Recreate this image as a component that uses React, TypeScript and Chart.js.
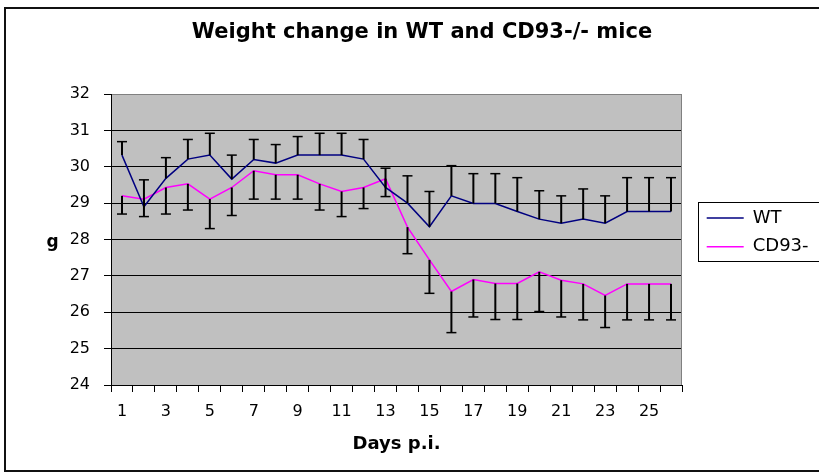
import React, { useEffect, useRef } from "react";
import { Chart, registerables } from "chart.js";

Chart.register(...registerables);

// ---- data ----
const days = ["1", "2", "3", "4", "5", "6", "7", "8", "9", "10", "11", "12", "13", "14", "15", "16", "17", "18", "19", "20", "21", "22", "23", "24", "25", "26"];
const labeledDays = ["1", "3", "5", "7", "9", "11", "13", "15", "17", "19", "21", "23", "25"];
const seriesNames = ["WT", "CD93-"];
const wtMean = [30.32, 28.9, 29.68, 30.21, 30.32, 29.66, 30.2, 30.1, 30.32, 30.32, 30.32, 30.21, 29.43, 29.0, 28.35, 29.2, 28.99, 28.99, 28.77, 28.56, 28.45, 28.56, 28.45, 28.77, 28.77, 28.77];
const wtErr = [0.37, 0.74, 0.57, 0.54, 0.6, 0.66, 0.55, 0.51, 0.51, 0.6, 0.6, 0.54, 0.53, 0.75, 0.97, 0.83, 0.82, 0.82, 0.93, 0.78, 0.75, 0.83, 0.75, 0.93, 0.93, 0.93];
const cdMean = [29.2, 29.11, 29.43, 29.53, 29.11, 29.43, 29.89, 29.78, 29.78, 29.53, 29.32, 29.43, 29.67, 28.34, 27.44, 26.57, 26.9, 26.79, 26.79, 27.11, 26.88, 26.78, 26.46, 26.78, 26.78, 26.78];
const cdErr = [0.5, 0.48, 0.73, 0.72, 0.81, 0.77, 0.78, 0.67, 0.67, 0.72, 0.69, 0.58, 0.49, 0.73, 0.92, 1.13, 1.03, 0.99, 0.99, 1.09, 1.01, 0.99, 0.88, 0.99, 0.99, 0.99];
const errorSets = [wtErr, cdErr];
const errorDirections = [1, -1]; // WT: plus bars, CD93: minus bars
const yMin = 24;
const yMax = 32;
const yStep = 1;
const titleText = "Weight change in WT and CD93-/- mice";
const xTitle = "Days p.i.";
const yTitle = "g";

const FONT = "'DejaVu Sans', sans-serif";
const CANVAS_W = 844;
const CANVAS_H = 474;
const LEGEND_W = 162;

const plotFrame = {
  id: "plotFrame",
  beforeDraw(chart: any) {
    const { ctx, chartArea: a } = chart;
    ctx.save();
    ctx.fillStyle = "#C0C0C0";
    ctx.fillRect(a.left, a.top, a.right - a.left, a.bottom - a.top);
    ctx.restore();
  },
  beforeDatasetsDraw(chart: any) {
    const { ctx, chartArea: a } = chart;
    ctx.save();
    ctx.strokeStyle = "#808080";
    ctx.lineWidth = 1;
    const x = Math.round(a.right) - 0.5;
    ctx.beginPath();
    ctx.moveTo(x, a.top);
    ctx.lineTo(x, a.bottom);
    ctx.stroke();
    ctx.restore();
  },
};

const errorBars = {
  id: "errorBars",
  afterDatasetsDraw(chart: any) {
    const { ctx } = chart;
    const xs = chart.scales.x;
    const ys = chart.scales.y;
    ctx.save();
    ctx.strokeStyle = "#000";
    chart.data.datasets.forEach((ds: any, di: number) => {
      const errs = errorSets[di];
      const dir = errorDirections[di];
      ds.data.forEach((v: number, i: number) => {
        const px = xs.getPixelForValue(i);
        const y0 = ys.getPixelForValue(v);
        const y1 = ys.getPixelForValue(v + dir * errs[i]);
        ctx.lineWidth = 2;
        ctx.beginPath();
        ctx.moveTo(px, y0);
        ctx.lineTo(px, y1);
        ctx.stroke();
        ctx.lineWidth = 1.5;
        ctx.beginPath();
        ctx.moveTo(px - 5, y1);
        ctx.lineTo(px + 5, y1);
        ctx.stroke();
      });
    });
    ctx.restore();
  },
};

const legendTweaks = {
  id: "legendTweaks",
  beforeInit(chart: any) {
    const legend = chart.legend;
    if (!legend) return;
    const orig = legend.fit;
    legend.fit = function () {
      orig.call(this);
      this.width = LEGEND_W;
    };
  },
  afterLayout(chart: any) {
    const l = chart.legend;
    if (!l) return;
    l.left += 14;
    l.right += 14;
    l.top -= 4.65;
    l.bottom -= 4.65;
  },
  afterDraw(chart: any) {
    const { ctx } = chart;
    const l = chart.legend;
    const hb = l && l.legendHitBoxes;
    if (hb && hb.length) {
      const first = hb[0];
      const last = hb[hb.length - 1];
      const left = Math.round(first.left - 8.7) + 0.5;
      const top = Math.round(first.top - 7) + 0.5;
      const bottom = Math.round(last.top + last.height + 5) + 0.5;
      ctx.save();
      ctx.strokeStyle = "#000";
      ctx.lineWidth = 1;
      ctx.strokeRect(left, top, chart.width + 20 - left, bottom - top);
      ctx.restore();
    }
    // horizontal y-axis title
    const a = chart.chartArea;
    const ys = chart.scales.y;
    ctx.save();
    ctx.fillStyle = "#000";
    ctx.font = `bold 17px ${FONT}`;
    ctx.textAlign = "center";
    ctx.textBaseline = "alphabetic";
    ctx.fillText(yTitle, ys.left + 52.5, (a.top + a.bottom) / 2 + 7);
    ctx.restore();
  },
};

export default function App() {
  const ref = useRef<HTMLCanvasElement>(null);

  useEffect(() => {
    document.body.style.margin = "0";
    document.body.style.overflow = "hidden";
    const canvas = ref.current;
    if (!canvas) return;
    const chart = new Chart(canvas, {
      type: "line",
      data: {
        labels: days,
        datasets: [
          {
            label: seriesNames[0],
            data: wtMean,
            borderColor: "#000080",
            backgroundColor: "#000080",
            borderWidth: 1.5,
            pointRadius: 0,
            tension: 0,
          },
          {
            label: seriesNames[1],
            data: cdMean,
            borderColor: "#FF00FF",
            backgroundColor: "#FF00FF",
            borderWidth: 1.5,
            pointRadius: 0,
            tension: 0,
          },
        ],
      },
      options: {
        responsive: false,
        animation: false,
        events: [],
        layout: { padding: 0 },
        scales: {
          x: {
            type: "category",
            offset: true,
            afterFit: (s: any) => {
              s.height = 89;
            },
            grid: {
              display: true,
              drawOnChartArea: false,
              drawTicks: true,
              tickLength: 7,
              offset: true,
              color: "#000",
              tickColor: "#000",
            },
            border: { display: true, color: "#000", width: 1 },
            ticks: {
              autoSkip: false,
              maxRotation: 0,
              padding: 10.4,
              color: "#000",
              font: { family: FONT, size: 16 },
              callback: (_v: any, i: number) => (labeledDays.includes(days[i]) ? days[i] : ""),
            },
            title: {
              display: true,
              text: xTitle,
              color: "#000",
              font: { family: FONT, size: 18, weight: "bold" },
              padding: { top: 0, bottom: 19.2 },
            },
          },
          y: {
            min: yMin,
            max: yMax,
            afterFit: (s: any) => {
              s.width = 111;
            },
            grid: {
              color: (c: any) => (c.tick && c.tick.value === yMax ? "#808080" : "#000"),
              tickColor: "#000",
              tickLength: 7,
              lineWidth: 1,
            },
            border: { display: true, color: "#000", width: 1 },
            ticks: {
              stepSize: yStep,
              padding: 14,
              color: "#000",
              font: { family: FONT, size: 16 },
            },
          },
        },
        plugins: {
          title: {
            display: true,
            text: titleText,
            color: "#000",
            font: { family: FONT, size: 21, weight: "bold" },
            padding: { top: 20.4, bottom: 48.4 },
          },
          legend: {
            display: true,
            position: "right",
            align: "center",
            labels: {
              color: "#000",
              font: { family: FONT, size: 18 },
              boxWidth: 37,
              boxHeight: 1.5,
              padding: 10.7,
              generateLabels: (c: any) =>
                (Chart.defaults.plugins.legend.labels as any)
                  .generateLabels(c)
                  .map((l: any) => ({ ...l, fillStyle: l.strokeStyle, lineWidth: 0 })),
            },
          },
          tooltip: { enabled: false },
        },
      } as any,
      plugins: [plotFrame, errorBars, legendTweaks],
    });
    return () => chart.destroy();
  }, []);

  return (
    <div style={{ position: "relative", width: 819, height: 474, overflow: "hidden", background: "#fff" }}>
      <div
        style={{
          position: "absolute",
          left: 4,
          top: 7,
          width: 900,
          height: 461,
          borderTop: "2px solid #111",
          borderLeft: "2px solid #111",
          borderBottom: "2px solid #111",
          borderRight: "none",
        }}
      />
      <canvas
        ref={ref}
        width={CANVAS_W}
        height={CANVAS_H}
        style={{ position: "absolute", left: 0, top: 0, width: CANVAS_W, height: CANVAS_H }}
      />
    </div>
  );
}
